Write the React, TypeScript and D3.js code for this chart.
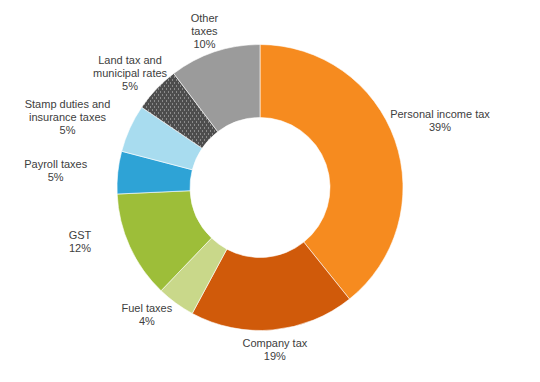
import React from "react";
import * as d3 from "d3";

const categories = [
  ["Personal income tax"],
  ["Company tax"],
  ["Fuel taxes"],
  ["GST"],
  ["Payroll taxes"],
  ["Stamp duties and", "insurance taxes"],
  ["Land tax and", "municipal rates"],
  ["Other", "taxes"],
];
const values = [39.2, 18.6, 4.3, 12.1, 4.8, 5.4, 5.2, 10.3];
const colors = ["#F68B1F", "#D05A0A", "#C9D88A", "#9DBE39", "#2EA3D6", "#A8DCEF", "url(#dots)", "#9B9B9B"];

// label layout (distance from centre, angle tweak in degrees)
const labelDist = [192, 163, 170, 188, 205, 205, 173, 166];
const labelShift = [-1, 0, 5.7, 7.7, -1.3, -4.3, -2.2, -1];

const W = 540, H = 382;
const cx = 260, cy = 187.5, R = 143, r = 70;

export default function App() {
  const pie = d3.pie<number>().sort(null).value((d) => d);
  const arcs = pie(values);
  const arc = d3.arc<d3.PieArcDatum<number>>().innerRadius(r).outerRadius(R);
  const lh = 13;
  return (
    <svg width={W} height={H} style={{ position: "absolute", left: 0, top: 0, background: "#fff" }}>
      <defs>
        <pattern id="dots" width="4" height="6" patternUnits="userSpaceOnUse">
          <rect width="4" height="6" fill="#4D4D4D" />
          <rect x="0" y="0" width="1" height="1" fill="#C8C8C8" />
          <rect x="2" y="3" width="1" height="1" fill="#C8C8C8" />
        </pattern>
      </defs>
      <g transform={`translate(${cx},${cy})`}>
        {arcs.map((a, i) => (
          <path key={i} d={arc(a) || ""} fill={colors[i]} stroke="#fff" strokeWidth={0.6} />
        ))}
        {arcs.map((a, i) => {
          const mid = (a.startAngle + a.endAngle) / 2 + (labelShift[i] * Math.PI) / 180;
          const x = labelDist[i] * Math.sin(mid);
          const y = -labelDist[i] * Math.cos(mid);
          const lines = [...categories[i], `${Math.round(values[i])}%`];
          const y0 = y - ((lines.length - 1) * lh) / 2;
          return (
            <text
              key={"t" + i}
              x={x}
              textAnchor="middle"
              fontFamily="Liberation Sans, Arial, sans-serif"
              fontSize={11}
              fill="#404040"
            >
              {lines.map((l, j) => (
                <tspan key={j} x={x} y={y0 + j * lh} dy="0.35em">
                  {l}
                </tspan>
              ))}
            </text>
          );
        })}
      </g>
    </svg>
  );
}
